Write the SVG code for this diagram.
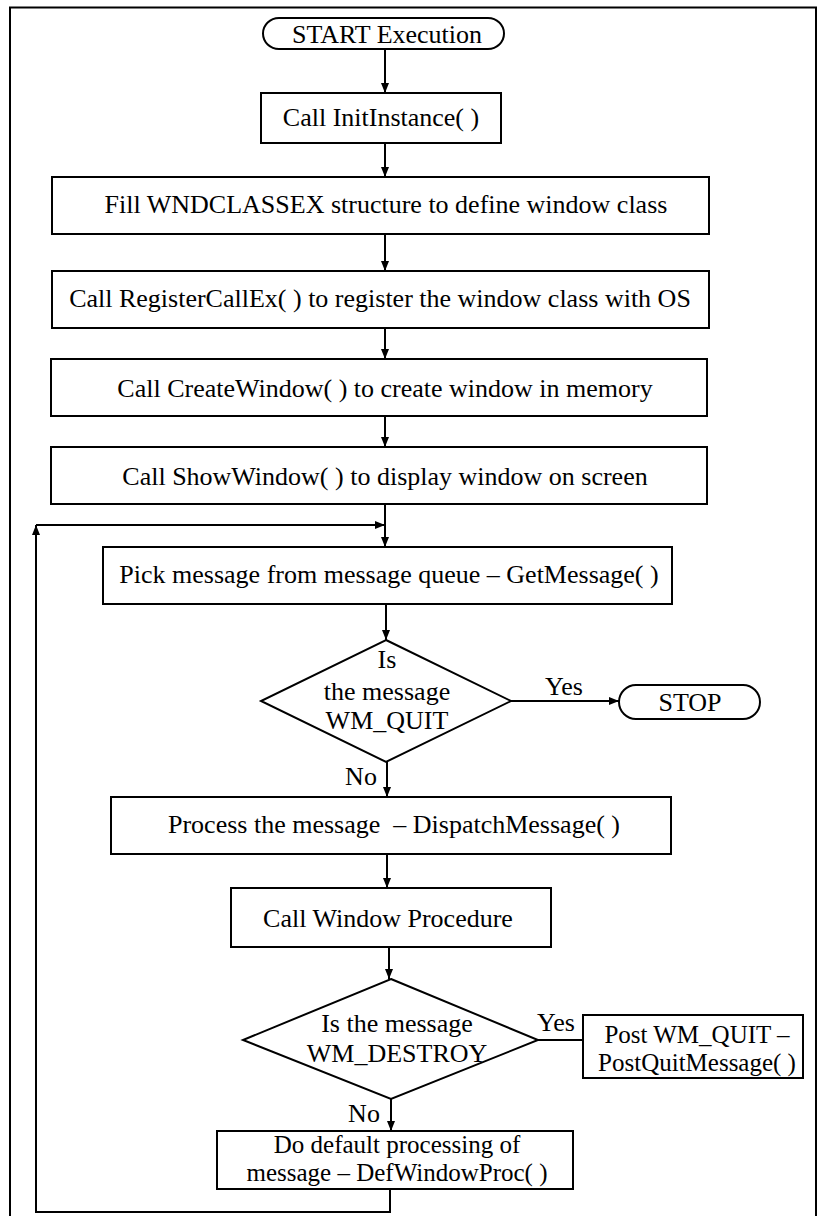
<svg xmlns="http://www.w3.org/2000/svg" width="819" height="1216" viewBox="0 0 819 1216">
<defs>
<style>
.box{fill:#fff;stroke:#000;stroke-width:2}
.ln{fill:none;stroke:#000;stroke-width:2}
.t{font-family:"Liberation Serif","Times New Roman",serif;font-size:26px;fill:#000;text-anchor:middle}
.t2{font-size:25px}
.frame{fill:none;stroke:#000;stroke-width:2}
</style>
<marker id="ah" markerUnits="userSpaceOnUse" markerWidth="10" markerHeight="8" refX="10" refY="4" orient="auto">
<path d="M0,0 L10,4 L0,8 z" fill="#000"/>
</marker>
</defs>
<rect x="0" y="0" width="819" height="1216" fill="#fff"/>
<path class="frame" d="M10,1216 V7.5 H816 V1216"/>

<g id="connectors">
<path class="ln" d="M385,49 V93" marker-end="url(#ah)"/>
<path class="ln" d="M385,143 V177" marker-end="url(#ah)"/>
<path class="ln" d="M385,234 V271" marker-end="url(#ah)"/>
<path class="ln" d="M385,328 V359" marker-end="url(#ah)"/>
<path class="ln" d="M385,416 V447" marker-end="url(#ah)"/>
<path class="ln" d="M385,504 V547" marker-end="url(#ah)"/>
<path class="ln" d="M386,604 V640" marker-end="url(#ah)"/>
<path class="ln" d="M511,701 H619" marker-end="url(#ah)"/>
<path class="ln" d="M387,762 V797" marker-end="url(#ah)"/>
<path class="ln" d="M387,854 V888" marker-end="url(#ah)"/>
<path class="ln" d="M389,947 V979" marker-end="url(#ah)"/>
<path class="ln" d="M538,1040 H583"/>
<path class="ln" d="M391,1099 V1131" marker-end="url(#ah)"/>
<path class="ln" d="M390,1189 V1212 H36 V525" marker-end="url(#ah)"/>
<path class="ln" d="M36,525 H385" marker-end="url(#ah)"/>
<text class="t" x="564" y="695">Yes</text>
<text class="t" x="361" y="785">No</text>
<text class="t" x="556" y="1031">Yes</text>
<text class="t" x="364" y="1122">No</text>
</g>

<g id="start">
<rect class="box" x="263" y="18" width="241" height="31" rx="16" ry="15.5"/>
<text class="t" x="387" y="43">START Execution</text>
</g>
<g id="init">
<rect class="box" x="261" y="93" width="240" height="50"/>
<text class="t" x="381" y="126">Call InitInstance( )</text>
</g>
<g id="fill">
<rect class="box" x="52" y="177" width="657" height="57"/>
<text class="t" x="386" y="213">Fill WNDCLASSEX structure to define window class</text>
</g>
<g id="register">
<rect class="box" x="52" y="271" width="657" height="57"/>
<text class="t" x="380" y="307">Call RegisterCallEx( ) to register the window class with OS</text>
</g>
<g id="create">
<rect class="box" x="51" y="359" width="656" height="57"/>
<text class="t" x="385" y="397">Call CreateWindow( ) to create window in memory</text>
</g>
<g id="show">
<rect class="box" x="51" y="447" width="656" height="57"/>
<text class="t" x="385" y="485">Call ShowWindow( ) to display window on screen</text>
</g>
<g id="pick">
<rect class="box" x="103" y="547" width="569" height="57"/>
<text class="t" x="389" y="583">Pick message from message queue – GetMessage( )</text>
</g>
<g id="quit-decision">
<polygon class="box" points="386,640 511,701 386,762 261,701"/>
<text class="t" x="387" y="668">Is</text>
<text class="t" x="387" y="700">the message</text>
<text class="t" x="387" y="729">WM_QUIT</text>
</g>
<g id="stop">
<rect class="box" x="619" y="685" width="141" height="34" rx="17" ry="17"/>
<text class="t" x="690" y="711">STOP</text>
</g>
<g id="dispatch">
<rect class="box" x="111" y="797" width="560" height="57"/>
<text class="t" x="394" y="833" style="white-space:pre">Process the message  – DispatchMessage( )</text>
</g>
<g id="winproc">
<rect class="box" x="231" y="888" width="320" height="59"/>
<text class="t" x="388" y="927">Call Window Procedure</text>
</g>
<g id="destroy-decision">
<polygon class="box" points="391,979 538,1040 391,1099 243,1040"/>
<text class="t" x="397" y="1032">Is the message</text>
<text class="t" x="397" y="1062">WM_DESTROY</text>
</g>
<g id="postquit">
<rect class="box" x="583" y="1015" width="220" height="63"/>
<text class="t t2" x="697" y="1043">Post WM_QUIT –</text>
<text class="t t2" x="697" y="1071">PostQuitMessage( )</text>
</g>
<g id="defproc">
<rect class="box" x="217" y="1131" width="356" height="58"/>
<text class="t t2" x="397" y="1153">Do default processing of</text>
<text class="t t2" x="397" y="1181">message – DefWindowProc( )</text>
</g>
</svg>
